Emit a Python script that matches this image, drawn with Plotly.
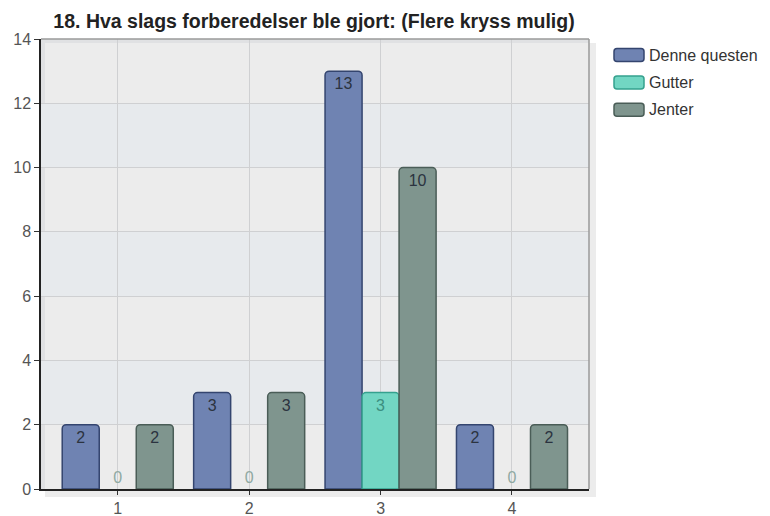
"""
Bar chart: 18. Hva slags forberedelser ble gjort
"""

import plotly.graph_objects as go


# ==========================================================
# Data
# ==========================================================

categories = [1, 2, 3, 4]

series_names = ["Denne questen", "Gutter", "Jenter"]
denne_questen = [2, 3, 13, 2]
gutter = [0, 0, 3, 0]
jenter = [2, 3, 10, 2]

y_ticks = [0, 2, 4, 6, 8, 10, 12, 14]
light_bands = [(2, 4), (6, 8), (10, 12)]


# ==========================================================
# Geometry helpers (pixel -> paper)
# ==========================================================

W, H = 762, 516
ML, MR, MT, MB = 33, 181, 31, 35
PW = W - ML - MR
PH = H - MT - MB


def px_x(p):
    return (p - ML) / PW


def px_y(p):
    return (H - MB - p) / PH


def rounded_rect(x0, y0, x1, y1, r=3):
    """Rounded rectangle path, pixel coords converted to paper."""
    X = px_x
    Y = px_y
    return (
        f"M {X(x0 + r)} {Y(y0)} L {X(x1 - r)} {Y(y0)} "
        f"Q {X(x1)} {Y(y0)} {X(x1)} {Y(y0 + r)} "
        f"L {X(x1)} {Y(y1 - r)} Q {X(x1)} {Y(y1)} {X(x1 - r)} {Y(y1)} "
        f"L {X(x0 + r)} {Y(y1)} Q {X(x0)} {Y(y1)} {X(x0)} {Y(y1 - r)} "
        f"L {X(x0)} {Y(y0 + r)} Q {X(x0)} {Y(y0)} {X(x0 + r)} {Y(y0)} Z"
    )


# ==========================================================
# Figure
# ==========================================================

styles = [
    # fill, border, inside text
    ("#6f83b2", "#34456f", "#2b3340"),
    ("#72d6c3", "#35a18e", "#3b8f80"),
    ("#7f958e", "#4a5d57", "#2b3340"),
]

fig = go.Figure()

for name, values, (fill, line, txt) in zip(
    series_names, [denne_questen, gutter, jenter], styles
):
    fig.add_trace(
        go.Bar(
            x=categories,
            y=values,
            name=name,
            text=[str(v) for v in values],
            textposition=["inside" if v > 0 else "outside" for v in values],
            insidetextanchor="end",
            insidetextfont=dict(color=txt, size=16),
            outsidetextfont=dict(color="#8fa9a2", size=16),
            textangle=0,
            cliponaxis=False,
            showlegend=False,
            marker=dict(
                color=fill,
                line=dict(color=line, width=[1.5 if v > 0 else 0 for v in values]),
                cornerradius=4,
            ),
        )
    )

shapes = []
annotations = []

# drop shadow of the plot area
shapes.append(dict(
    type="rect", xref="paper", yref="paper",
    x0=px_x(ML + 4), x1=px_x(W - MR + 7), y0=px_y(H - MB + 8), y1=px_y(MT + 4),
    fillcolor="#ececec", line=dict(width=0), layer="below",
))

for lo, hi in light_bands:
    shapes.append(dict(
        type="rect", xref="paper", yref="y",
        x0=0, x1=1, y0=lo, y1=hi,
        fillcolor="#e7eaed", line=dict(width=0), layer="below",
    ))

# gray frame on top and right
shapes.append(dict(type="line", xref="paper", yref="paper",
                   x0=0, x1=1, y0=1, y1=1,
                   line=dict(color="#9a9a9a", width=1.5)))
shapes.append(dict(type="line", xref="paper", yref="paper",
                   x0=1, x1=1, y0=0, y1=1,
                   line=dict(color="#9a9a9a", width=1.5)))

# legend drawn by hand (wide rounded swatches)
legend_rows = [47, 74.5, 101.7]
for name, (fill, line, _), cy in zip(series_names, styles, legend_rows):
    shapes.append(dict(
        type="path", xref="paper", yref="paper",
        path=rounded_rect(606, cy - 6.5, 636, cy + 6.5),
        fillcolor=fill, line=dict(color=line, width=1.5),
    ))
    annotations.append(dict(
        text=name, xref="paper", yref="paper",
        x=px_x(639), y=px_y(cy), xanchor="left", yanchor="middle",
        showarrow=False, font=dict(size=16, color="#333333"),
    ))

fig.update_layout(
    title=dict(
        text="<b>18. Hva slags forberedelser ble gjort: (Flere kryss mulig)</b>",
        x=306 / W,
        xanchor="center",
        y=1 - 13 / H,
        yanchor="middle",
        font=dict(size=19.5, color="#222222"),
    ),
    width=W,
    height=H,
    margin=dict(l=ML, r=MR, t=MT, b=MB, autoexpand=False),
    paper_bgcolor="white",
    plot_bgcolor="#e0e1e3",
    font=dict(family="Liberation Sans, Arial", size=16, color="#555555"),
    barmode="group",
    bargap=0.155,
    bargroupgap=0,
    shapes=shapes,
    annotations=annotations,
    showlegend=False,
    xaxis=dict(
        range=[0.416, 4.586],
        tickvals=categories,
        ticks="outside",
        ticklen=4,
        tickcolor="#333333",
        tickfont=dict(size=16),
        showgrid=True,
        gridcolor="#cfd0d2",
        showline=True,
        linecolor="#222222",
        linewidth=1.5,
        zeroline=False,
        automargin=False,
        fixedrange=True,
    ),
    yaxis=dict(
        range=[0, 14],
        tickvals=y_ticks,
        ticks="outside",
        ticklen=5,
        tickcolor="#333333",
        showgrid=True,
        gridcolor="#cfd0d2",
        showline=True,
        linecolor="#222222",
        linewidth=1.5,
        zeroline=False,
        automargin=False,
    ),
)

fig.write_html("out.html")
